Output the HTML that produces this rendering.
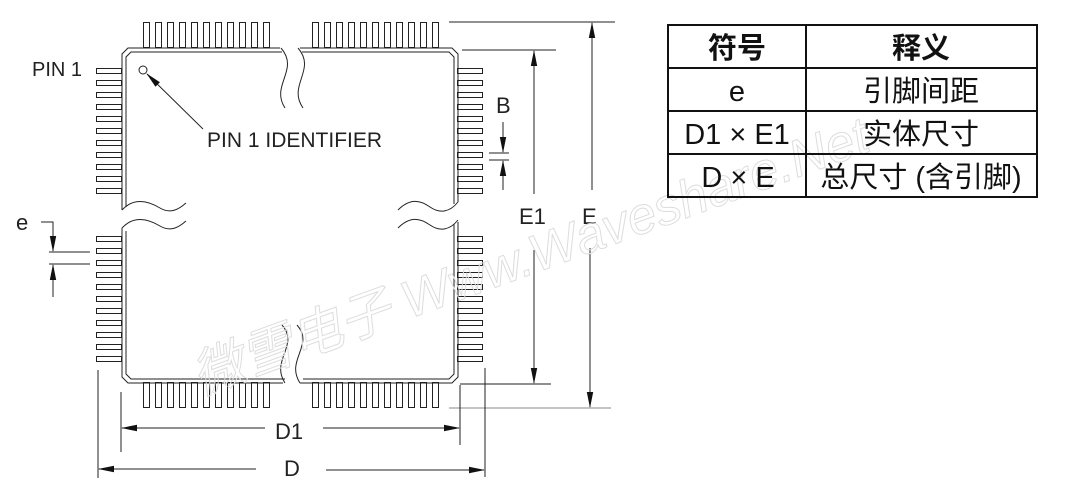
<!DOCTYPE html>
<html><head><meta charset="utf-8"><style>
html,body{margin:0;padding:0;background:#fff;width:1074px;height:501px;overflow:hidden}
svg{display:block}
.t{font-family:"Liberation Sans",Arial,sans-serif;fill:#222}
.c{font-family:"Liberation Sans","Noto Sans CJK SC",sans-serif;fill:#111}
</style></head><body>
<svg width="1074" height="501" viewBox="0 0 1074 501" xmlns="http://www.w3.org/2000/svg">
<defs>
<marker id="ar" markerWidth="16" markerHeight="8" refX="15" refY="4" orient="auto" markerUnits="userSpaceOnUse"><path d="M0,0.8 L16,4 L0,7.2 Z" fill="#111"/></marker>
<g id="vp"><rect x="0.5" y="0.5" width="6" height="25"/></g>
<g id="hp"><rect x="0.5" y="0.5" width="25" height="5"/></g>
<g id="vg"><use href="#vp" x="0"/><use href="#vp" x="12"/><use href="#vp" x="24"/><use href="#vp" x="36"/><use href="#vp" x="48"/><use href="#vp" x="60"/><use href="#vp" x="72"/><use href="#vp" x="84"/><use href="#vp" x="96"/><use href="#vp" x="108"/><use href="#vp" x="120"/></g>
<g id="hg"><use href="#hp" y="0"/><use href="#hp" y="12"/><use href="#hp" y="24"/><use href="#hp" y="36"/><use href="#hp" y="48"/><use href="#hp" y="60"/><use href="#hp" y="72"/><use href="#hp" y="84"/><use href="#hp" y="96"/><use href="#hp" y="108"/><use href="#hp" y="120"/></g>
</defs>
<g stroke="#222" stroke-width="1" fill="#fff">
<use href="#vg" x="143" y="22"/>
<use href="#vg" x="312" y="22"/>
<use href="#vg" x="143" y="382"/>
<use href="#vg" x="312" y="382"/>
<use href="#hg" x="96" y="68"/>
<use href="#hg" x="96" y="236"/>
<use href="#hg" x="457" y="68"/>
<use href="#hg" x="457" y="236"/>
</g>
<g stroke="#222" stroke-width="1" fill="none">
<path d="M122,210 L122,54 L128,48 L280,48" fill="#fff"/>
<path d="M126,207 L126,57 L131,52 L282,52"/>
<path d="M300,48 L452,48 L458,54 L458,202"/>
<path d="M302,52 L449,52 L454,57 L454,204"/>
<path d="M122,228 L122,377 L128,383 L283,383"/>
<path d="M126,231 L126,374 L131,379 L285,379"/>
<path d="M300,383 L452,383 L458,377 L458,222"/>
<path d="M303,379 L449,379 L454,374 L454,224"/>
<path d="M281,48 C300,70 270,85 285,108"/>
<path d="M298,48 C317,70 287,85 303,108"/>
<path d="M282,325 C300,345 270,360 285,383"/>
<path d="M297,325 C315,345 285,360 300,383"/>
<path d="M122,210 C135,196 150,202 160,208 C170,214 178,210 186,203"/>
<path d="M122,228 C135,214 150,220 160,226 C170,232 178,228 186,221"/>
<path d="M398,210 C410,198 420,200 430,207 C440,214 450,212 458,202"/>
<path d="M398,228 C410,216 420,218 430,225 C440,232 450,230 458,220"/>
<circle cx="143" cy="70" r="4"/>
<line x1="203" y1="129" x2="147" y2="74" marker-end="url(#ar)"/>
<line x1="462" y1="50" x2="556" y2="50"/>
<line x1="460" y1="384" x2="551" y2="384"/>
<line x1="534" y1="194" x2="534" y2="51" marker-end="url(#ar)"/>
<line x1="534" y1="250" x2="534" y2="383" marker-end="url(#ar)"/>
<line x1="449" y1="22" x2="615" y2="22"/>
<line x1="449" y1="408" x2="611" y2="408" stroke="#888"/>
<line x1="592" y1="190" x2="592" y2="23" marker-end="url(#ar)"/>
<line x1="590" y1="248" x2="590" y2="407" marker-end="url(#ar)"/>
<line x1="485" y1="368" x2="485" y2="410"/>
<line x1="460" y1="385" x2="460" y2="445"/>
<line x1="489" y1="153" x2="509" y2="153"/>
<line x1="489" y1="160" x2="509" y2="160"/>
<line x1="503" y1="122" x2="503" y2="152" marker-end="url(#ar)"/>
<line x1="503" y1="190" x2="503" y2="161" marker-end="url(#ar)"/>
<path d="M41,222 L53,222 L53,251" marker-end="url(#ar)"/>
<line x1="49" y1="252" x2="90" y2="252"/>
<line x1="49" y1="264" x2="90" y2="264"/>
<line x1="53" y1="297" x2="53" y2="265" marker-end="url(#ar)"/>
<line x1="121" y1="392" x2="121" y2="452"/>
<line x1="265" y1="428" x2="122" y2="428" marker-end="url(#ar)"/>
<line x1="323" y1="428" x2="459" y2="428" marker-end="url(#ar)"/>
<line x1="98" y1="370" x2="98" y2="478"/>
<line x1="485" y1="410" x2="485" y2="477"/>
<line x1="256" y1="469" x2="99" y2="469" marker-end="url(#ar)"/>
<line x1="326" y1="470" x2="484" y2="470" marker-end="url(#ar)"/>
</g>
<g class="t" font-size="21">
<text x="32" y="76" font-size="20">PIN 1</text>
<text x="207" y="147">PIN 1 IDENTIFIER</text>
<text x="496" y="113" font-size="22">B</text>
<text x="519" y="224" font-size="22">E1</text>
<text x="582" y="224" font-size="22">E</text>
<text x="16" y="230" font-size="22">e</text>
<text x="275" y="439" font-size="22">D1</text>
<text x="284" y="476" font-size="22">D</text>
</g>
<text transform="translate(200,395) rotate(-20)" font-family="'Liberation Sans','Noto Sans CJK SC',sans-serif" font-size="52" fill="none" stroke="#ddd" stroke-width="1" font-style="italic">微雪电子 Www.Waveshare.Net</text>
<g stroke="#111" stroke-width="2" fill="none">
<rect x="668" y="25" width="369" height="172"/>
<line x1="806" y1="25" x2="806" y2="197"/>
<line x1="668" y1="68" x2="1037" y2="68"/>
<line x1="668" y1="111" x2="1037" y2="111"/>
<line x1="668" y1="154" x2="1037" y2="154"/>
</g>
<g class="c" font-size="29" text-anchor="middle">
<text x="737" y="58" font-weight="bold">符号</text>
<text x="921" y="58" font-weight="bold">释义</text>
<text x="737" y="101">e</text>
<text x="921" y="101">引脚间距</text>
<text x="737" y="144">D1 × E1</text>
<text x="921" y="144">实体尺寸</text>
<text x="738" y="187">D × E</text>
<text x="921" y="187">总尺寸 (含引脚)</text>
</g>
</svg>
</body></html>
